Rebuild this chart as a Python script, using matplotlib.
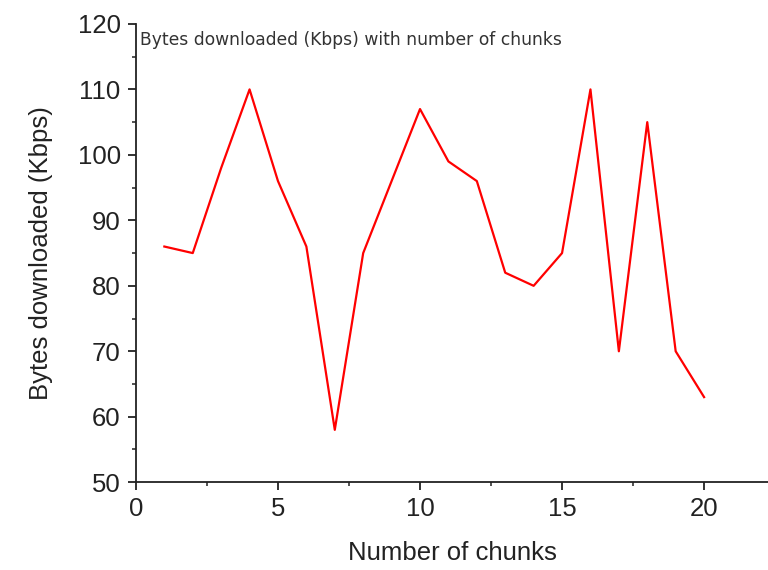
import numpy as np
import matplotlib.pyplot as plt
from matplotlib.ticker import MultipleLocator

plt.rcParams['font.family'] = ['Liberation Sans', 'DejaVu Sans']

# data
chunks = [1, 2, 3, 4, 5, 6, 7, 8, 9, 10, 11, 12, 13, 14, 15, 16, 17, 18, 19, 20]
kbps = [86, 85, 98, 110, 96, 86, 58, 85, 96, 107, 99, 96, 82, 80, 85, 110, 70, 105, 70, 63]

fig = plt.figure(figsize=(7.68, 5.70), dpi=100)
ax = fig.add_axes([0.177, 0.154, 0.823, 0.804])

ax.plot(chunks, kbps, color='red', linewidth=1.6)

ax.set_xlim(0, 22.25)
ax.set_ylim(50, 120)
ax.xaxis.set_major_locator(MultipleLocator(5))
ax.xaxis.set_minor_locator(MultipleLocator(2.5))
ax.yaxis.set_major_locator(MultipleLocator(10))
ax.yaxis.set_minor_locator(MultipleLocator(5))

for side in ['top', 'right']:
    ax.spines[side].set_visible(False)
for side in ['left', 'bottom']:
    ax.spines[side].set_linewidth(1.3)
    ax.spines[side].set_color('#222222')

ax.tick_params(which='major', direction='out', length=6, width=1.3, labelsize=18.5,
               colors='#222222', pad=5)
ax.tick_params(which='minor', direction='out', length=3, width=1.1, colors='#222222')

ax.set_xlabel('Number of chunks', fontsize=18.5, color='#222222', labelpad=14)
ax.set_ylabel('Bytes downloaded (Kbps)', fontsize=18.5, color='#222222', labelpad=18)

ax.text(0.006, 0.965, 'Bytes downloaded (Kbps) with number of chunks',
        transform=ax.transAxes, fontsize=12.3, color='#333333', va='center', ha='left',
        family=['DejaVu Sans'])

fig.savefig('out.png', dpi=100)
